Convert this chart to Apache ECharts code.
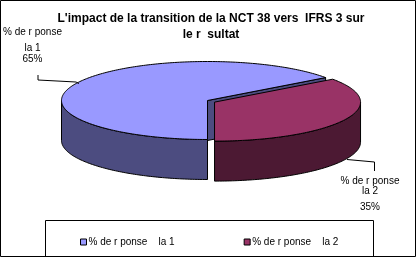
<!DOCTYPE html>
<html>
<head>
<meta charset="utf-8">
<script src="https://cdn.jsdelivr.net/npm/echarts@6/dist/echarts.min.js"></script>
<style>
html,body{margin:0;padding:0;background:#fff;}
#c{width:417px;height:257px;}
</style>
</head>
<body>
<div id="c"></div>
<script>
// ---- data ----
const categories = ['% de r ponse    la 1', '% de r ponse    la 2'];
const values = [65, 35];
const titleText = "L'impact de la transition de la NCT 38 vers  IFRS 3 sur\nle r  sultat";

// ---- layout / style (not data) ----
const CX = 207.5, CY = 100.5, RX = 146, RY = 39, DEPTH = 40, START = 36;
const EXPLODE = [0, 7.9];
const TOP_COLORS = ['#9999FF', '#993366'];
const SIDE_COLORS = ['#4C4C80', '#4C1933'];
const LABEL_POS = [
  {x: 32.5, ys: [32, 48, 59], leader: [[38, 75], [38, 80], [76, 82], [79, 83.5]]},
  {x: 370, ys: [181, 191, 207], leader: [[347, 159.5], [374.5, 162], [374.5, 171]]}
];
const FONT = 'Liberation Sans, Arial, sans-serif';

const total = values.reduce((a, b) => a + b, 0);
const rad = d => d * Math.PI / 180;

function renderSlice(params, api) {
  const i = params.seriesIndex;
  const v = api.value(0);
  let before = 0;
  for (let k = 0; k < i; k++) before += values[k];
  const a0 = START + before / total * 360;
  const a1 = a0 + v / total * 360;
  const mid = rad((a0 + a1) / 2);
  const dx = EXPLODE[i] * Math.cos(mid);
  const dy = -EXPLODE[i] * Math.sin(mid) * 0.45;
  const cx = CX + dx, cy = CY + dy;
  const P = (deg, z) => [cx + RX * Math.cos(rad(deg)), cy - RY * Math.sin(rad(deg)) + z];
  const arc = (lo, hi, z) => {
    const pts = [];
    const n = Math.max(2, Math.ceil((hi - lo) / 1));
    for (let s = 0; s <= n; s++) pts.push(P(lo + (hi - lo) * s / n, z));
    return pts;
  };
  const children = [];
  const stroke = {stroke: '#000', lineWidth: 1, lineJoin: 'round'};
  const face = (deg) => ({
    type: 'polygon',
    shape: {points: [[cx, cy], P(deg, 0), P(deg, DEPTH), [cx, cy + DEPTH]]},
    style: Object.assign({fill: SIDE_COLORS[i]}, stroke)
  });
  if (Math.cos(rad(a0)) > 1e-6) children.push(face(a0));
  if (Math.cos(rad(a1)) < -1e-6) children.push(face(a1));
  for (let k = -1; k <= 2; k++) {
    const lo = Math.max(a0, 180 + 360 * k), hi = Math.min(a1, 360 + 360 * k);
    if (hi > lo) {
      const pts = arc(lo, hi, 0).concat(arc(lo, hi, DEPTH).reverse());
      children.push({type: 'polygon', shape: {points: pts}, style: Object.assign({fill: SIDE_COLORS[i]}, stroke)});
    }
  }
  children.push({
    type: 'polygon',
    shape: {points: [[cx, cy]].concat(arc(a0, a1, 0))},
    style: Object.assign({fill: TOP_COLORS[i]}, stroke)
  });
  const L = LABEL_POS[i];
  children.push({type: 'polyline', shape: {points: L.leader}, style: {stroke: '#000', lineWidth: 1, fill: null}});
  const parts = categories[i].split(/\s{2,}/);
  const lines = parts.concat([Math.round(v / total * 100) + '%']);
  lines.forEach((t, j) => {
    children.push({type: 'text', style: {text: t, x: L.x, y: L.ys[j], align: 'center', verticalAlign: 'middle', font: '10px ' + FONT, fill: '#000'}});
  });
  return {type: 'group', children};
}

const chart = echarts.init(document.getElementById('c'), null, {renderer: 'canvas'});
chart.setOption({
  backgroundColor: '#fff',
  animation: false,
  title: {
    text: titleText,
    left: 206,
    textAlign: 'center',
    top: 6,
    textStyle: {fontFamily: FONT, fontSize: 12, fontWeight: 'bold', color: '#000', lineHeight: 16}
  },
  legend: {
    left: 75,
    top: 232,
    icon: 'rect',
    itemWidth: 6,
    itemHeight: 6,
    itemGap: 69,
    itemStyle: {borderColor: '#000', borderWidth: 1},
    textStyle: {fontFamily: FONT, fontSize: 10, color: '#000', padding: [0, 0, 0, -3]},
    data: categories
  },
  graphic: [
    {type: 'rect', shape: {x: 0.5, y: 0.5, width: 415, height: 256}, style: {fill: null, stroke: '#000', lineWidth: 1}, z: 100},
    {type: 'rect', shape: {x: 45.5, y: 220.5, width: 328, height: 40}, style: {fill: null, stroke: '#000', lineWidth: 1}, z: 100}
  ],
  series: categories.map((name, i) => ({
    type: 'custom',
    name: name,
    coordinateSystem: 'none',
    itemStyle: {color: TOP_COLORS[i], borderColor: '#000', borderWidth: 1},
    renderItem: renderSlice,
    data: [values[i]]
  }))
});
</script>
</body>
</html>
